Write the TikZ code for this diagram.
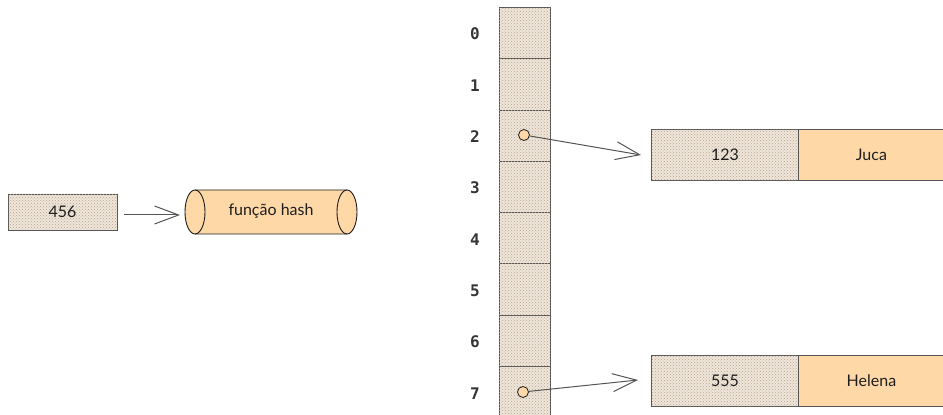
\documentclass[tikz,border=0pt]{standalone}
\usepackage{fontspec}
\setmainfont{Lato}
\newfontfamily\monofont{DejaVu Sans Mono}
\usetikzlibrary{arrows.meta,patterns}
\definecolor{peach}{HTML}{FFD8A8}
\definecolor{hatchbg}{HTML}{EFE6DB}
\definecolor{hatchdot}{HTML}{BBA58C}
\definecolor{ink}{HTML}{1E1E1E}
\definecolor{edge}{HTML}{555555}
\tikzset{
  hatched/.style={fill=hatchbg, postaction={pattern=crosshatch dots, pattern color=hatchdot}},
  cellbox/.style={draw=edge, line width=0.9pt, hatched, minimum width=51pt, minimum height=51.3pt, inner sep=0pt, anchor=north west},
  idxlabel/.style={font=\monofont\bfseries\fontsize{16}{16}\selectfont, text=ink!90},
  handtext/.style={font=\fontsize{16}{16}\selectfont, text=ink},
  keybox/.style={draw=edge, line width=0.9pt, hatched, minimum width=147pt, minimum height=51pt, inner sep=0pt, anchor=south west, handtext},
  valbox/.style={draw=edge, line width=0.9pt, fill=peach, minimum width=146pt, minimum height=51pt, inner sep=0pt, anchor=south west, handtext},
  dotnode/.style={circle, draw=ink, line width=0.8pt, fill=peach, minimum size=11pt, inner sep=0pt},
  arr/.style={draw=edge, line width=1pt, -{Straight Barb[length=24pt,width=18pt]}},
}
\begin{document}
\begin{tikzpicture}[x=1pt,y=1pt]
\useasboundingbox (0,0) rectangle (943,415);
% array cells
\foreach \i in {0,...,7} {
  \node[cellbox] (c\i) at (499,{408-51.3*\i}) {};
  \node[idxlabel] (l\i) at (475,{406.5-51.3*(\i+0.5)}) {\i};
}
% input key
\node[draw=edge, line width=0.9pt, hatched, minimum width=109pt, minimum height=36pt, inner sep=0pt, handtext] (k) at (62.5,203) {456};
% hash function cylinder
\fill[peach] (195,225) -- (347,225) arc[start angle=90,end angle=-90,x radius=10,y radius=22] -- (195,181) arc[start angle=270,end angle=90,x radius=10,y radius=22] -- cycle;
\draw[ink, line width=0.9pt] (195,225) -- (347,225) arc[start angle=90,end angle=-90,x radius=10,y radius=22] -- (195,181) arc[start angle=270,end angle=90,x radius=10,y radius=22];
\draw[ink, line width=0.9pt] (195,225) arc[start angle=90,end angle=-90,x radius=10,y radius=22];
\draw[ink, line width=0.9pt] (347,225) arc[start angle=90,end angle=270,x radius=10,y radius=22];
\node[handtext] (hash) at (271,204) {função hash};
\coordinate (a0) at (124,200);
\coordinate (a1) at (180,200);
\draw[arr] (a0) -- (a1);
% records
\node[keybox] (k1) at (651,234) {123};
\node[valbox] (v1) at (798,234) {Juca};
\node[keybox] (k2) at (651,8) {555};
\node[valbox] (v2) at (798,8) {Helena};
% pointers
\node[dotnode] (d2) at (524,280) {};
\node[dotnode] (d7) at (523,23) {};
\coordinate (t1) at (641,260);
\coordinate (t2) at (638,35);
\draw[arr] (d2) -- (t1);
\draw[arr] (d7) -- (t2);
\end{tikzpicture}
\end{document}
